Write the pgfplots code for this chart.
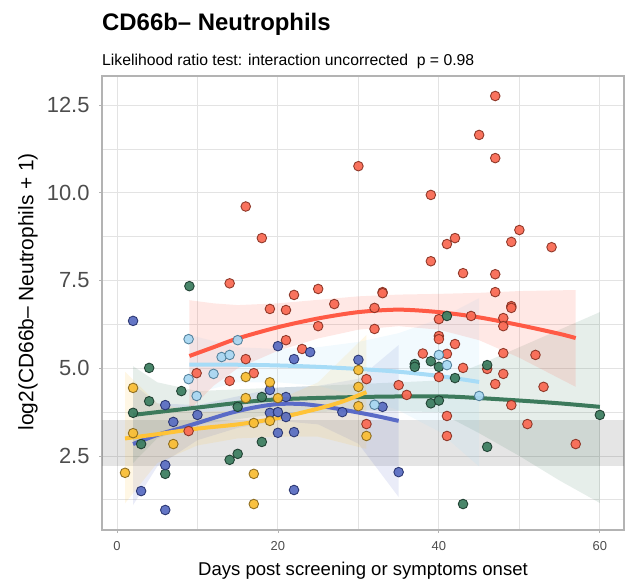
\documentclass[border=0pt]{standalone}
\usepackage{pgfplots}
\pgfplotsset{compat=1.18}
\usepackage{fontspec}
\setmainfont{Liberation Sans}
\definecolor{cred}{HTML}{FF5A45}
\definecolor{credf}{HTML}{F96B55}
\definecolor{credd}{HTML}{8A3324}
\definecolor{clb}{HTML}{A7DCF7}
\definecolor{clbf}{HTML}{A9D8F2}
\definecolor{clbd}{HTML}{4F7E99}
\definecolor{cye}{HTML}{FFC338}
\definecolor{cyef}{HTML}{F9BE36}
\definecolor{cyed}{HTML}{8A6A1E}
\definecolor{cbl}{HTML}{5A6BC7}
\definecolor{cblf}{HTML}{5C6FC2}
\definecolor{cbld}{HTML}{27336E}
\definecolor{cgr}{HTML}{3C7A5C}
\definecolor{cgrf}{HTML}{3F7F62}
\definecolor{cgrd}{HTML}{1D3D2F}
\definecolor{gridc}{HTML}{E3E3E3}
\definecolor{bordc}{HTML}{B3B3B3}
\definecolor{ticc}{HTML}{4D4D4D}
\begin{document}
\begin{tikzpicture}
\useasboundingbox (0,0) rectangle (626bp,584bp);
\node[anchor=base west, inner sep=0, font=\bfseries\fontsize{24}{27}\selectfont] at (102bp,553bp) {CD66b– Neutrophils};
\node[anchor=base west, inner sep=0, font=\fontsize{15.8}{17}\selectfont] at (102bp,518bp) {Likelihood ratio test: interaction uncorrected\ \ p = 0.98};
\begin{axis}[
  at={(102bp,54bp)}, anchor=south west, scale only axis,
  width=522bp, height=454bp,
  xmin=-1.86, xmax=63, ymin=0.39, ymax=13.33,
  xtick={0,20,40,60}, xticklabels={0,20,40,60},
  minor xtick={10,30,50},
  ytick={2.5,5,7.5,10,12.5}, yticklabels={2.5,5.0,7.5,10.0,12.5},
  minor ytick={1.25,3.75,6.25,8.75,11.25},
  grid=both,
  major grid style={color=gridc, line width=0.9bp},
  minor grid style={color=gridc, line width=0.9bp},
  axis line style={color=bordc, line width=1.2bp},
  tick align=outside, major tick length=3bp, minor tick length=0pt,
  tick style={color=bordc, line width=0.8bp},
  xtick pos=bottom, ytick pos=left,
  /pgf/number format/assume math mode=true,
  yticklabel style={font=\fontsize{22}{24}\selectfont, text=ticc, xshift=-6bp},
  xticklabel style={font=\fontsize{13}{15}\selectfont, text=ticc, yshift=-5bp},
  xlabel={Days post screening or symptoms onset},
  xlabel style={font=\fontsize{18.6}{20}\selectfont, at={(axis description cs:0.5,-0.09)}, anchor=center},
  ylabel={log2(CD66b– Neutrophils + 1)},
  ylabel style={font=\fontsize{21}{23}\selectfont, at={(axis description cs:-0.1418,0.525)}, anchor=center, rotate=0},
]
% gray reference band
\addplot[draw=none, fill=black, fill opacity=0.1] coordinates {(-1.86,2.2) (63,2.2) (63,3.53) (-1.86,3.53)} -- cycle;
% ribbons
\addplot[draw=none, fill=cgr, fill opacity=0.13] coordinates {(2,5.06) (5,4.6) (10,4.35) (20,4.45) (30,4.55) (40,4.65) (45,5.1) (50,5.6) (55,6.1) (60,6.6) (60,1.16) (55,1.8) (50,2.5) (45,3.15) (40,3.75) (30,3.8) (20,3.7) (10,3.4) (5,3.0) (2,2.3)} -- cycle;
\addplot[draw=none, fill=cbl, fill opacity=0.13] coordinates {(2,4.55) (5,4.0) (10,3.95) (15,4.2) (20,4.45) (25,4.5) (30,4.7) (35,5.66) (35,1.33) (30,2.85) (25,3.4) (20,3.5) (15,3.3) (10,2.95) (5,2.2) (2,1.1)} -- cycle;
\addplot[draw=none, fill=cye, fill opacity=0.13] coordinates {(1,4.9) (5,4.0) (10,3.75) (15,3.8) (20,4.1) (25,4.6) (31,5.95) (31,2.7) (25,3.05) (20,3.05) (15,3.0) (10,2.8) (5,2.3) (1,1.15)} -- cycle;
\addplot[draw=none, fill=clb, fill opacity=0.15] coordinates {(9,5.95) (15,5.6) (20,5.55) (25,5.6) (30,5.75) (35,6.0) (40,6.4) (45,7.0) (45,2.2) (40,3.2) (35,3.8) (30,4.2) (25,4.5) (20,4.6) (15,4.6) (9,4.25)} -- cycle;
\addplot[draw=none, fill=cred, fill opacity=0.14] coordinates {(9,6.94) (12,6.85) (15,6.8) (20,6.85) (25,6.95) (30,7.05) (35,7.1) (40,7.12) (45,7.15) (50,7.2) (57,7.23) (57,4.47) (50,5.3) (45,5.8) (40,6.1) (35,6.2) (30,6.1) (25,5.85) (20,5.5) (15,5.0) (12,4.5) (9,3.8)} -- cycle;
% fitted lines
\addplot[cgr, line width=4bp, smooth, no marks] coordinates {(2,3.67) (10,3.88) (19,4.1) (30,4.18) (40,4.2) (45,4.15) (50,4.08) (55,4.0) (60,3.9)};
\addplot[cbl, line width=4bp, smooth, no marks] coordinates {(2,2.84) (5,3.1) (8,3.3) (10,3.44) (14,3.72) (17,3.88) (20,3.98) (23,3.98) (26,3.9) (29,3.78) (32,3.65) (35,3.5)};
\addplot[cye, line width=4bp, smooth, no marks] coordinates {(1,3.0) (5,3.12) (10,3.28) (15,3.4) (20,3.58) (25,3.85) (28,4.05) (31,4.32)};
\addplot[clb, line width=4bp, smooth, no marks] coordinates {(9,5.1) (15,5.1) (20,5.08) (25,5.04) (30,4.98) (35,4.9) (40,4.78) (45,4.61)};
\addplot[cred, line width=4bp, smooth, no marks] coordinates {(9,5.35) (12,5.6) (15,5.85) (20,6.17) (25,6.42) (30,6.6) (35,6.67) (40,6.6) (45,6.45) (50,6.23) (55,5.98) (57,5.86)};
% points
\addplot[only marks, mark=*, mark size=4.8bp, mark options={fill=credf, draw=credd, line width=0.9bp, opacity=0.95}] coordinates {
(8.9,3.21) (9.9,4.86) (14,7.42) (14,4.64) (16,5.26) (16,9.61) (17,4.86) (18,8.71) (19,6.69) (21,6.66) (21,5.8) (22,7.09) (23,5.55) (25,7.26) (25,6.2) (27,6.83) (30,10.76) (31,4.69) (31,3.41) (32,6.72) (32,6.12) (33,7.17) (33,7.14) (35,4.52) (36,4.24) (38,5.42) (39,9.94) (39,8.05) (40,6.4) (40,5.92) (40,5.83) (40,4.75) (41,5.41) (41,3.64) (41,3.07) (41,8.54) (42,8.71) (42,5.69) (43,7.71) (43,5.01) (44,6.49) (45,11.65) (46,4.98) (47,12.76) (47,10.99) (47,7.68) (47,7.17) (47,4.55) (48,6.43) (48,6.2) (48,5.43) (48,4.84) (49,8.6) (49,6.77) (49,6.72) (49,3.95) (50,8.94) (51,3.41) (52,5.38) (53,4.47) (54,8.45) (57,2.84)};
\addplot[only marks, mark=*, mark size=4.8bp, mark options={fill=cgrf, draw=cgrd, line width=0.9bp, opacity=0.95}] coordinates {
(2,3.73) (3,2.84) (4,5.01) (4,4.06) (6,1.99) (8,4.35) (9,7.34) (14,2.39) (15,2.56) (15,3.9) (18,4.18) (18,2.9) (37,5.12) (37,5.04) (39,5.2) (39,4.0) (40,5.04) (40,4.08) (41,6.49) (42,4.72) (43,1.13) (46,5.09) (46,2.76) (60,3.67)};
\addplot[only marks, mark=*, mark size=4.8bp, mark options={fill=cblf, draw=cbld, line width=0.9bp, opacity=0.95}] coordinates {
(2,6.35) (3,1.5) (6,3.95) (6,2.24) (6,0.96) (7,3.47) (10,3.67) (19,4.38) (19,3.73) (20,5.63) (20,3.75) (20,3.16) (21,3.61) (21,4.18) (22,5.26) (22,3.18) (22,1.53) (24,5.46) (28,3.75) (30,5.24) (33,3.9) (35,2.04)};
\addplot[only marks, mark=*, mark size=4.8bp, mark options={fill=cyef, draw=cyed, line width=0.9bp, opacity=0.95}] coordinates {
(1,2.02) (2,4.44) (2,3.15) (7,2.84) (16,4.75) (16,4.15) (17,3.44) (17,1.99) (17,1.13) (19,4.6) (19,3.5) (20,4.15) (30,4.95) (30,4.47) (30,3.92) (31,3.07)};
\addplot[only marks, mark=*, mark size=4.8bp, mark options={fill=clbf, draw=clbd, line width=0.9bp, opacity=0.95}] coordinates {
(8.9,5.83) (8.9,4.69) (9.9,4.21) (12,4.84) (13,5.32) (14,5.38) (15,5.8) (32,3.96) (40,5.38) (41,5.09) (45,4.21)};
\end{axis}
\end{tikzpicture}
\end{document}
